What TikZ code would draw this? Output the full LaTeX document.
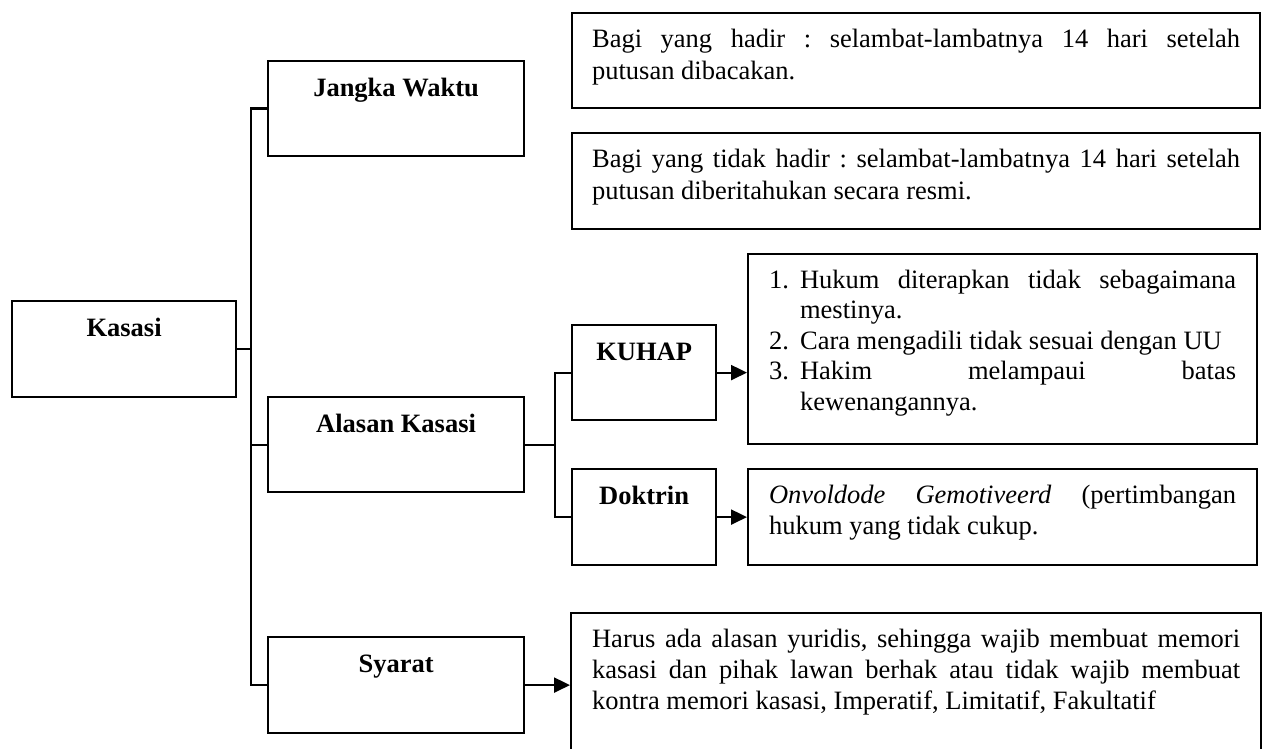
\documentclass[tikz,border=0pt]{standalone}
\usepackage{fontspec}
\setmainfont{Liberation Serif}
\usetikzlibrary{arrows.meta}

% paragraph settings for the boxed explanations: no hyphenation, loose lines allowed
\newcommand\boxtext[1]{\fontsize{26.5}{#1}\selectfont\frenchspacing\hyphenpenalty=10000 \exhyphenpenalty=10000 \tolerance=10000 \hbadness=10000 }
% numbered item with a hanging indent
\newcommand\numitem[1]{\noindent\hangindent=31pt\hangafter=1 \makebox[31pt][l]{#1}}

\tikzset{
  frame/.style={draw=black, line width=2.2pt},
  labelbox/.style={frame, anchor=north west, inner sep=0pt, text height=35pt,
    text depth=60pt, align=center, font=\fontsize{26.5}{31}\selectfont\bfseries},
  textbox/.style={frame, anchor=north west, inner xsep=21pt, inner ysep=0pt,
    text height=34pt, align=justify},
  conn/.style={draw=black, line width=2.2pt},
  arrowconn/.style={conn, -{Triangle[length=16pt,width=15pt]}}
}

\begin{document}
\begin{tikzpicture}[x=1pt,y=-1pt]
  \useasboundingbox (0,0) rectangle (1266,749);
  \fill[white] (0,0) rectangle (1266,749);
  \clip (0,0) rectangle (1266,749);

  % main topic and its three branches
  \node[labelbox, minimum width=224pt, text depth=61pt] (kasasi) at (11,300) {Kasasi};
  \node[labelbox, minimum width=256pt] (jangka) at (267,60) {Jangka Waktu};
  \node[labelbox, minimum width=256pt] (alasan) at (267,396) {Alasan Kasasi};
  \node[labelbox, minimum width=256pt, text depth=61pt] (syarat) at (267,636) {Syarat};

  % sub-branches of Alasan Kasasi
  \node[labelbox, minimum width=144pt] (kuhap) at (571,324) {KUHAP};
  \node[labelbox, minimum width=144pt, text depth=61pt] (doktrin) at (571,468) {Doktrin};

  % explanation boxes
  \node[textbox, inner xsep=20pt, text width=648pt, text depth=61pt,
        font=\boxtext{32.5}] (hadir) at (571,12)
    {Bagi yang hadir : selambat-lambatnya 14 hari setelah\linebreak putusan dibacakan.};
  \node[textbox, inner xsep=20pt, text width=648pt, text depth=62pt,
        font=\boxtext{32.5}] (tidakhadir) at (571,132)
    {Bagi yang tidak hadir : selambat-lambatnya 14 hari setelah\linebreak putusan diberitahukan secara resmi.};
  \node[textbox, text width=467pt, text depth=156pt, font=\boxtext{30.5}] (daftar) at (747,253)
    {\numitem{1.}Hukum diterapkan tidak sebagaimana\linebreak mestinya.\par
     \numitem{2.}Cara mengadili tidak sesuai dengan UU\par
     \numitem{3.}Hakim melampaui batas\linebreak kewenangannya.\par};
  \node[textbox, text width=467pt, text depth=62pt, font=\boxtext{31}] (onvoldode) at (747,468)
    {\textit{Onvoldode Gemotiveerd} (pertimbangan\linebreak hukum yang tidak cukup.};
  \node[textbox, text width=648pt, text depth=166pt, font=\boxtext{31}] (alasanyuridis) at (570,612)
    {Harus ada alasan yuridis, sehingga wajib membuat memori\linebreak kasasi dan pihak lawan berhak atau tidak wajib membuat\linebreak kontra memori kasasi, Imperatif, Limitatif, Fakultatif};

  % bracket joining Kasasi to its branches
  \coordinate (trunk) at (251,0);
  \draw[conn] (jangka.west) -- (jangka.west -| trunk) -- (syarat.west -| trunk) -- (syarat.west);
  \draw[conn] (kasasi.east) -- (kasasi.east -| trunk);
  \draw[conn] (alasan.west) -- (alasan.west -| trunk);

  % bracket joining Alasan Kasasi to KUHAP and Doktrin
  \coordinate (fork) at (555,0);
  \draw[conn] (alasan.east) -- (alasan.east -| fork);
  \draw[conn] (kuhap.west) -- (kuhap.west -| fork) -- (doktrin.west -| fork) -- (doktrin.west);

  % arrows into the explanation boxes
  \draw[arrowconn] (kuhap.east) -- (kuhap.east -| daftar.west);
  \draw[arrowconn] (doktrin.east) -- (doktrin.east -| onvoldode.west);
  \draw[arrowconn] (syarat.east) -- (syarat.east -| alasanyuridis.west);
\end{tikzpicture}
\end{document}
